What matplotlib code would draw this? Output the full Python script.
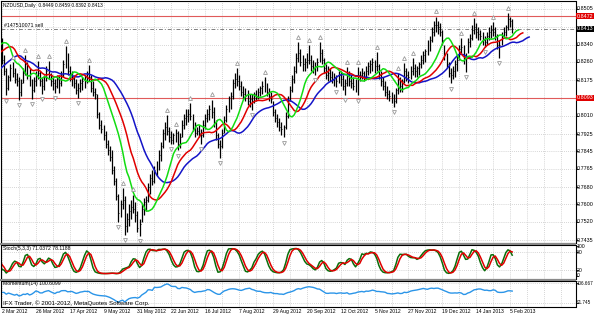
"""NZDUSD daily chart in MetaTrader style: bars, Alligator, fractals, Stochastic, Momentum."""

import matplotlib

matplotlib.use("Agg")
import matplotlib.pyplot as plt
import numpy as np
import pandas as pd
from matplotlib import transforms
from matplotlib.patches import Rectangle

plt.rcParams["font.family"] = ["Liberation Sans", "DejaVu Sans"]

# --- data ----------------------------------------------------------------------
# 14 bars before the first visible date (feed the indicators at the left edge)
PRE_HIGH = [.8340, .8310, .8300, .8300, .8360, .8390, .8410, .8390, .8390, .8400, .8390, .8420, .8430, .8394]
PRE_LOW = [.8260, .8230, .8230, .8220, .8250, .8320, .8340, .8300, .8310, .8340, .8320, .8340, .8290, .8290]
PRE_CLOSE = [.8300, .8250, .8280, .8260, .8340, .8370, .8380, .8320, .8370, .8380, .8350, .8410, .8300, .8360]

HIGH = [
    .8370, .8290, .8230, .8200, .8250, .8260, .8230, .8210, .8190, .8180,
    .8230, .8290, .8260, .8230, .8180, .8190, .8220, .8265, .8220, .8190,
    .8200, .8240, .8262, .8210, .8190, .8180, .8200, .8195, .8220, .8270,
    .8335, .8300, .8240, .8220, .8200, .8180, .8160, .8180, .8190, .8200,
    .8220, .8245, .8200, .8170, .8140, .8110, .8030, .7990, .7970, .7940,
    .7900, .7870, .7850, .7780, .7720, .7650, .7620, .7676, .7640, .7560,
    .7600, .7620, .7645, .7610, .7570, .7530, .7600, .7630, .7640, .7700,
    .7740, .7760, .7780, .7800, .7850, .7890, .7950, .7980, .8015, .7960,
    .7940, .7930, .7950, .7940, .7930, .7990, .8020, .8040, .8040, .8070,
    .8020, .7980, .7960, .7970, .7950, .7990, .8020, .8040, .8060, .8085,
    .8050, .7990, .7930, .7900, .7950, .8010, .8060, .8100, .8120, .8180,
    .8210, .8232, .8200, .8170, .8150, .8140, .8130, .8110, .8110, .8120,
    .8130, .8140, .8150, .8170, .8190, .8160, .8140, .8120, .8080, .8040,
    .8020, .8000, .7980, .7970, .8030, .8100, .8150, .8200, .8240, .8300,
    .8352, .8320, .8290, .8280, .8300, .8338, .8290, .8270, .8260, .8280,
    .8350, .8320, .8280, .8250, .8240, .8230, .8220, .8210, .8200, .8220,
    .8220, .8200, .8180, .8236, .8220, .8200, .8190, .8180, .8236, .8220,
    .8230, .8220, .8240, .8260, .8270, .8280, .8270, .8306, .8250, .8220,
    .8190, .8170, .8150, .8130, .8120, .8110, .8140, .8210, .8190, .8180,
    .8255, .8230, .8220, .8240, .8278, .8250, .8240, .8260, .8290, .8310,
    .8320, .8360, .8380, .8420, .8450, .8470, .8450, .8440, .8410, .8340,
    .8300, .8260, .8230, .8240, .8270, .8290, .8340, .8370, .8340, .8300,
    .8370, .8390, .8430, .8463, .8440, .8420, .8410, .8400, .8380, .8400,
    .8420, .8430, .8445, .8420, .8390, .8360, .8400, .8420, .8430, .8487,
    .8470, .8459,
]
LOW = [
    .8250, .8200, .8105, .8130, .8170, .8190, .8160, .8150, .8085, .8100,
    .8160, .8200, .8180, .8150, .8090, .8120, .8150, .8180, .8150, .8110,
    .8130, .8170, .8180, .8150, .8130, .8115, .8140, .8118, .8150, .8190,
    .8230, .8200, .8170, .8150, .8140, .8110, .8095, .8120, .8130, .8140,
    .8160, .8170, .8120, .8100, .8090, .8000, .7950, .7930, .7900, .7860,
    .7830, .7800, .7740, .7690, .7620, .7520, .7540, .7580, .7460, .7470,
    .7500, .7530, .7560, .7520, .7470, .7455, .7520, .7550, .7570, .7610,
    .7650, .7690, .7700, .7730, .7760, .7800, .7860, .7900, .7920, .7890,
    .7880, .7882, .7890, .7850, .7860, .7910, .7950, .7970, .7980, .7990,
    .7940, .7910, .7920, .7910, .7880, .7910, .7950, .7980, .7990, .8000,
    .7960, .7900, .7860, .7815, .7860, .7930, .7980, .8030, .8040, .8090,
    .8140, .8150, .8130, .8100, .8090, .8080, .8060, .8050, .8037, .8070,
    .8080, .8090, .8100, .8110, .8120, .8100, .8080, .8070, .8010, .7980,
    .7960, .7940, .7920, .7910, .7950, .8000, .8080, .8120, .8160, .8210,
    .8260, .8240, .8220, .8220, .8230, .8250, .8220, .8210, .8200, .8220,
    .8260, .8250, .8210, .8180, .8170, .8170, .8160, .8150, .8144, .8160,
    .8150, .8130, .8107, .8150, .8150, .8140, .8130, .8120, .8105, .8170,
    .8180, .8170, .8180, .8200, .8210, .8220, .8210, .8220, .8180, .8150,
    .8130, .8100, .8090, .8080, .8070, .8050, .8070, .8110, .8120, .8120,
    .8160, .8170, .8160, .8180, .8200, .8190, .8190, .8200, .8230, .8250,
    .8260, .8290, .8310, .8350, .8380, .8400, .8390, .8380, .8340, .8270,
    .8230, .8190, .8160, .8180, .8190, .8220, .8270, .8300, .8250, .8213,
    .8300, .8330, .8360, .8390, .8370, .8360, .8360, .8340, .8330, .8340,
    .8360, .8370, .8380, .8360, .8320, .8278, .8340, .8370, .8380, .8410,
    .8420, .8392,
]
CLOSE = [
    .8270, .8220, .8140, .8190, .8230, .8210, .8180, .8170, .8120, .8160,
    .8210, .8250, .8200, .8170, .8130, .8170, .8200, .8210, .8170, .8150,
    .8190, .8220, .8200, .8170, .8160, .8150, .8180, .8160, .8200, .8250,
    .8280, .8220, .8190, .8180, .8160, .8130, .8140, .8160, .8170, .8190,
    .8210, .8190, .8140, .8120, .8110, .8020, .7970, .7950, .7920, .7880,
    .7850, .7820, .7760, .7710, .7640, .7560, .7600, .7620, .7500, .7530,
    .7570, .7590, .7580, .7550, .7490, .7510, .7580, .7610, .7620, .7680,
    .7720, .7710, .7760, .7780, .7830, .7870, .7930, .7960, .7940, .7910,
    .7900, .7920, .7930, .7880, .7910, .7970, .8000, .8010, .8020, .8010,
    .7960, .7930, .7940, .7930, .7920, .7970, .8000, .8020, .8040, .8030,
    .7980, .7920, .7880, .7870, .7930, .7990, .8040, .8080, .8100, .8160,
    .8180, .8170, .8150, .8120, .8110, .8100, .8080, .8090, .8080, .8110,
    .8100, .8120, .8140, .8150, .8140, .8120, .8100, .8090, .8030, .8000,
    .7980, .7960, .7950, .7960, .8010, .8080, .8130, .8180, .8220, .8280,
    .8300, .8260, .8250, .8260, .8270, .8270, .8240, .8230, .8240, .8260,
    .8300, .8270, .8230, .8200, .8210, .8190, .8180, .8190, .8170, .8200,
    .8180, .8150, .8160, .8210, .8170, .8160, .8150, .8140, .8200, .8200,
    .8210, .8190, .8220, .8240, .8250, .8260, .8240, .8240, .8200, .8170,
    .8150, .8120, .8110, .8100, .8090, .8080, .8130, .8180, .8150, .8170,
    .8220, .8200, .8190, .8220, .8230, .8220, .8230, .8250, .8270, .8290,
    .8310, .8340, .8360, .8400, .8430, .8430, .8420, .8400, .8360, .8290,
    .8250, .8210, .8200, .8220, .8250, .8270, .8320, .8330, .8270, .8280,
    .8350, .8370, .8410, .8420, .8400, .8390, .8380, .8360, .8350, .8380,
    .8400, .8410, .8400, .8380, .8340, .8340, .8380, .8400, .8420, .8460,
    .8449, .8413,
]

# smoothed-average values just before the first pre bar
JAW_SEED, TEETH_SEED, LIPS_SEED = 0.8180, 0.8250, 0.8280

DATE_LABELS = ["2 Mar 2012", "26 Mar 2012", "17 Apr 2012", "9 May 2012", "31 May 2012",
               "22 Jun 2012", "16 Jul 2012", "7 Aug 2012", "29 Aug 2012", "20 Sep 2012",
               "12 Oct 2012", "5 Nov 2012", "27 Nov 2012", "19 Dec 2012", "14 Jan 2013",
               "5 Feb 2013"]
DATE_STEP = 16
GRID_STEP = 8

PRICE_TICKS = [0.7435, 0.7520, 0.7600, 0.7680, 0.7765, 0.7845, 0.7925, 0.8010,
               0.8093, 0.8175, 0.8260, 0.8340, 0.8420, 0.8505]
PRICE_HIDDEN = [0.8093, 0.8420]
RED_LEVELS = [0.8472, 0.8093]
ORDER_LEVEL = 0.8413
ORDER_TEXT = "#147510071 sell"

STOCH_TICKS = [0, 20, 80, 100]
STOCH_LEVELS = [20, 80]
MOM_TICKS = [91.745, 106.667]

TITLE = "NZDUSD,Daily  0.8449 0.8459 0.8392 0.8413"
STOCH_TITLE = "Stoch(5,3,3) 71.0372 78.1188"
MOM_TITLE = "Momentum(14) 100.6099"
COPYRIGHT = "IFX Trader, \u00a9 2001-2012, MetaQuotes Software Corp."

assert len(HIGH) == len(LOW) == len(CLOSE) == 242


def smma(values: np.ndarray, period: int, seed: float) -> np.ndarray:
    """Smoothed moving average with a given starting value."""
    out = np.empty(len(values))
    s = seed
    for i, v in enumerate(values):
        s = (s * (period - 1) + v) / period
        out[i] = s
    return out


W, H = 594, 316


def rect(x0: float, y0: float, x1: float, y1: float) -> list[float]:
    """Pixel box -> figure fraction."""
    return [x0 / W, 1 - y1 / H, (x1 - x0) / W, (y1 - y0) / H]


high = np.r_[PRE_HIGH, HIGH]
low = np.r_[PRE_LOW, LOW]
close = np.r_[PRE_CLOSE, CLOSE]
idx = np.arange(-len(PRE_HIGH), len(HIGH))
median = (high + low) / 2

jaw = smma(median, 13, JAW_SEED)
teeth = smma(median, 8, TEETH_SEED)
lips = smma(median, 5, LIPS_SEED)

hs, ls_, cs = pd.Series(high), pd.Series(low), pd.Series(close)
ll = ls_.rolling(5).min()
hh = hs.rolling(5).max()
stoch_k = 100 * (cs - ll).rolling(3).sum() / (hh - ll).rolling(3).sum()
stoch_d = stoch_k.rolling(3).mean()
momentum = 100 * cs / cs.shift(14)

up_fr, dn_fr = [], []
for i in range(2, len(high) - 2):
    if high[i] > max(high[i - 2], high[i - 1], high[i + 1], high[i + 2]):
        up_fr.append(i)
    if low[i] < min(low[i - 2], low[i - 1], low[i + 1], low[i + 2]):
        dn_fr.append(i)
up_fr = np.array([i for i in up_fr if idx[i] >= 0])
dn_fr = np.array([i for i in dn_fr if idx[i] >= 0])

# --- figure --------------------------------------------------------------------
fig = plt.figure(figsize=(W / 100, H / 100), dpi=100)
ax = fig.add_axes(rect(0.5, 0.5, 575.5, 242.5))
ax_st = fig.add_axes(rect(0.5, 245, 575.5, 279), sharex=ax)
ax_mo = fig.add_axes(rect(0.5, 281, 575.5, 307), sharex=ax)

px_per_bar = 2.117
ax.set_xlim(-1.5 / px_per_bar, 573.5 / px_per_bar)
ax.set_ylim(0.742344, 0.854437)
ax_st.set_ylim(-10.17, 105.08)
ax_mo.set_ylim(88.76, 108.16)

grid_kw = dict(color="#c8c8c8", lw=0.6, ls=(0, (1, 1.5)), zorder=0)
for a in (ax, ax_st, ax_mo):
    a.set_xticks([])
    a.set_yticks([])
    for side in ("left", "right", "top", "bottom"):
        a.spines[side].set_color("black")
        a.spines[side].set_linewidth(0.8)
    for g in range(0, 272, GRID_STEP):
        a.axvline(g, **grid_kw)

for p in PRICE_TICKS:
    ax.axhline(p, **grid_kw)
for v in STOCH_LEVELS:
    ax_st.axhline(v, **grid_kw)
for v in MOM_TICKS:
    ax_mo.axhline(v, **grid_kw)

# levels
for p in RED_LEVELS:
    ax.axhline(p, color="#e05a5a", lw=0.8, zorder=1)
ax.axhline(ORDER_LEVEL, color="#808080", lw=0.7, ls=(0, (4, 2, 1, 2)), zorder=1)
ax.text(2 / px_per_bar, ORDER_LEVEL + 0.0004, ORDER_TEXT, fontsize=3.8, va="bottom", ha="left")

# price bars
ax.vlines(idx, low, high, color="black", lw=0.9, zorder=2)
ax.hlines(close, idx, idx + 0.45, color="black", lw=0.6, zorder=2)

# alligator
ax.plot(idx + 8, jaw, color="#1414c8", lw=1.1, zorder=3)
ax.plot(idx + 5, teeth, color="#e00000", lw=1.1, zorder=3)
ax.plot(idx + 3, lips, color="#12dc12", lw=1.1, zorder=3)

# fractals
ax.plot(idx[up_fr], high[up_fr] + 0.0024, ls="none", marker="^", ms=2.8, mfc="white",
        mec="#9a9a9a", mew=0.6, zorder=4)
ax.plot(idx[dn_fr], low[dn_fr] - 0.0024, ls="none", marker="v", ms=2.8, mfc="white",
        mec="#9a9a9a", mew=0.6, zorder=4)

# sub windows
ax_st.plot(idx, stoch_k, color="#0a6e0a", lw=1.1)
ax_st.plot(idx, stoch_d, color="#e00000", lw=1.1)
ax_mo.plot(idx, momentum, color="#2b95e8", lw=1.0)

# splitters
for y0, y1 in ((242.5, 245), (279, 281)):
    fig.add_artist(Rectangle((0, 1 - y1 / H), 575.5 / W, (y1 - y0) / H, transform=fig.transFigure,
                             color="#8a8a8a", lw=0))

# texts
fig.text(3 / W, 1 - 5 / H, TITLE, fontsize=3.5, va="center")
fig.text(3 / W, 1 - 248.5 / H, STOCH_TITLE, fontsize=3.7, va="center")
fig.text(3 / W, 1 - 283.5 / H, MOM_TITLE, fontsize=3.7, va="center")
fig.text(3 / W, 1 - 302.7 / H, COPYRIGHT, fontsize=4.4, va="center")

xfig = transforms.blended_transform_factory(ax.transData, fig.transFigure)
for k, lab in enumerate(DATE_LABELS):
    fig.text(k * DATE_STEP, 1 - 311.5 / H, lab, fontsize=3.6, va="center", ha="left", transform=xfig)

right_x = 577 / W
for a, ticks, labels, size in (
    (ax, [p for p in PRICE_TICKS if p not in PRICE_HIDDEN], None, 3.9),
    (ax_st, STOCH_TICKS, [str(v) for v in STOCH_TICKS], 3.7),
    (ax_mo, MOM_TICKS, [f"{v:.3f}" for v in MOM_TICKS], 3.3),
):
    tr = transforms.blended_transform_factory(fig.transFigure, a.transData)
    tick_tr = transforms.blended_transform_factory(a.transAxes, a.transData)
    for j, v in enumerate(ticks):
        text = labels[j] if labels else f"{v:.4f}"
        fig.text(right_x, v, text, fontsize=size, va="center", ha="left", transform=tr)
        a.plot([1, 1.004], [v, v], color="black", lw=0.6, transform=tick_tr, clip_on=False)

tr = transforms.blended_transform_factory(fig.transFigure, ax.transData)
for p, face in ((RED_LEVELS[0], "#e00000"), (RED_LEVELS[1], "#e00000"), (ORDER_LEVEL, "black")):
    fig.text(577 / W, p, f"{p:.4f}", fontsize=3.9, va="center", ha="left", color="white",
             transform=tr, bbox=dict(boxstyle="square,pad=0.15", fc=face, ec="none"))

fig.savefig("out.png", dpi=100)
